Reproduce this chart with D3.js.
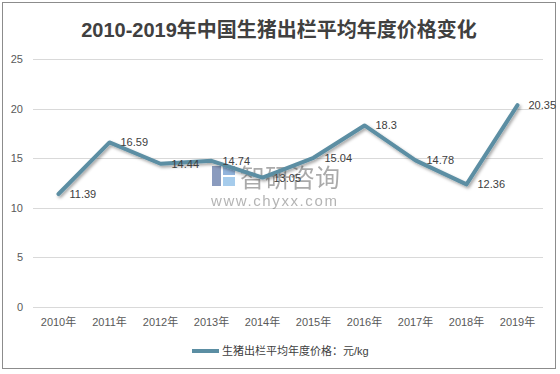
<!DOCTYPE html>
<html><head><meta charset="utf-8">
<script src="https://cdn.jsdelivr.net/npm/d3@7/dist/d3.min.js"></script>
<style>body{margin:0;background:#fff}svg{display:block}</style>
</head><body>
<svg id="c" width="560" height="374"></svg>
<script>
const categories = ["2010年","2011年","2012年","2013年","2014年","2015年","2016年","2017年","2018年","2019年"];
const values = [11.39,16.59,14.44,14.74,13.05,15.04,18.3,14.78,12.36,20.35];
const valueLabels = ["11.39","16.59","14.44","14.74","13.05","15.04","18.3","14.78","12.36","20.35"];
const yTicks = [0,5,10,15,20,25];
const title = "2010-2019年中国生猪出栏平均年度价格变化";
const seriesName = "生猪出栏平均年度价格：元/kg";

const svg = d3.select("#c");
const font = "'Liberation Sans','Noto Sans CJK SC',sans-serif";
const lineColor = "#5b8ea3";

svg.append("rect").attr("x",2.5).attr("y",2.5).attr("width",553).attr("height",366)
  .attr("fill","#fff").attr("stroke","#8c8c8c").attr("stroke-width",1);

svg.append("text").attr("x",279).attr("y",37).attr("text-anchor","middle")
  .attr("font-family",font).attr("font-weight","bold").attr("font-size",20)
  .attr("fill","#404040").text(title);

const x = d3.scaleBand().domain(categories).range([33,543]);
const y = d3.scaleLinear().domain([0,25]).range([307,59]);

// grid
svg.append("g").selectAll("line").data(yTicks).join("line")
  .attr("x1",33).attr("x2",543).attr("y1",d=>Math.round(y(d))+0.5).attr("y2",d=>Math.round(y(d))+0.5)
  .attr("stroke","#d9d9d9").attr("stroke-width",1);

const yAxis = svg.append("g").attr("transform","translate(33,0)")
  .call(d3.axisLeft(y).tickValues(yTicks).tickSize(0).tickPadding(10));
yAxis.select(".domain").remove();
yAxis.selectAll("text").attr("font-family",font).attr("font-size",11).attr("fill","#595959");

const xAxis = svg.append("g").attr("transform","translate(0,307)")
  .call(d3.axisBottom(x).tickSize(0).tickPadding(11));
xAxis.select(".domain").remove();
xAxis.selectAll("text").attr("font-family",font).attr("font-size",11).attr("fill","#595959");

// watermark
const wm = svg.append("g").attr("opacity",0.55);
wm.append("rect").attr("x",212).attr("y",166).attr("width",9).attr("height",20).attr("fill","#2c4b8a");
wm.append("rect").attr("x",223).attr("y",166).attr("width",12).attr("height",9).attr("fill","#3a78c0");
wm.append("rect").attr("x",223).attr("y",177).attr("width",12).attr("height",9).attr("fill","#5fa3dd");
wm.append("text").attr("x",240).attr("y",187).attr("font-family",font).attr("font-size",25)
  .attr("fill","#666").text("智研咨询");
wm.append("text").attr("x",211).attr("y",206).attr("font-family",font).attr("font-size",15)
  .attr("letter-spacing",1.6).attr("fill","#777").text("www.chyxx.com");

// line with shadow
const defs = svg.append("defs");
const f = defs.append("filter").attr("id","sh").attr("x","-10%").attr("y","-10%").attr("width","130%").attr("height","130%");
f.append("feDropShadow").attr("dx",1.5).attr("dy",2).attr("stdDeviation",1.5).attr("flood-color","#000").attr("flood-opacity",0.35);

const line = d3.line().x((d,i)=>x(categories[i])+x.bandwidth()/2).y(d=>y(d));
svg.append("path").datum(values).attr("d",line).attr("fill","none")
  .attr("stroke",lineColor).attr("stroke-width",4).attr("stroke-linejoin","round").attr("stroke-linecap","round")
  .attr("filter","url(#sh)");

svg.append("g").selectAll("text").data(values).join("text")
  .attr("x",(d,i)=>x(categories[i])+x.bandwidth()/2+11)
  .attr("y",d=>y(d)+4)
  .attr("font-family",font).attr("font-size",11).attr("fill","#404040")
  .text((d,i)=>valueLabels[i]);

// legend
svg.append("line").attr("x1",192).attr("x2",219).attr("y1",351).attr("y2",351)
  .attr("stroke",lineColor).attr("stroke-width",4);
svg.append("text").attr("x",222).attr("y",355).attr("font-family",font).attr("font-size",11)
  .attr("fill","#404040").text(seriesName);
</script>
</body></html>
